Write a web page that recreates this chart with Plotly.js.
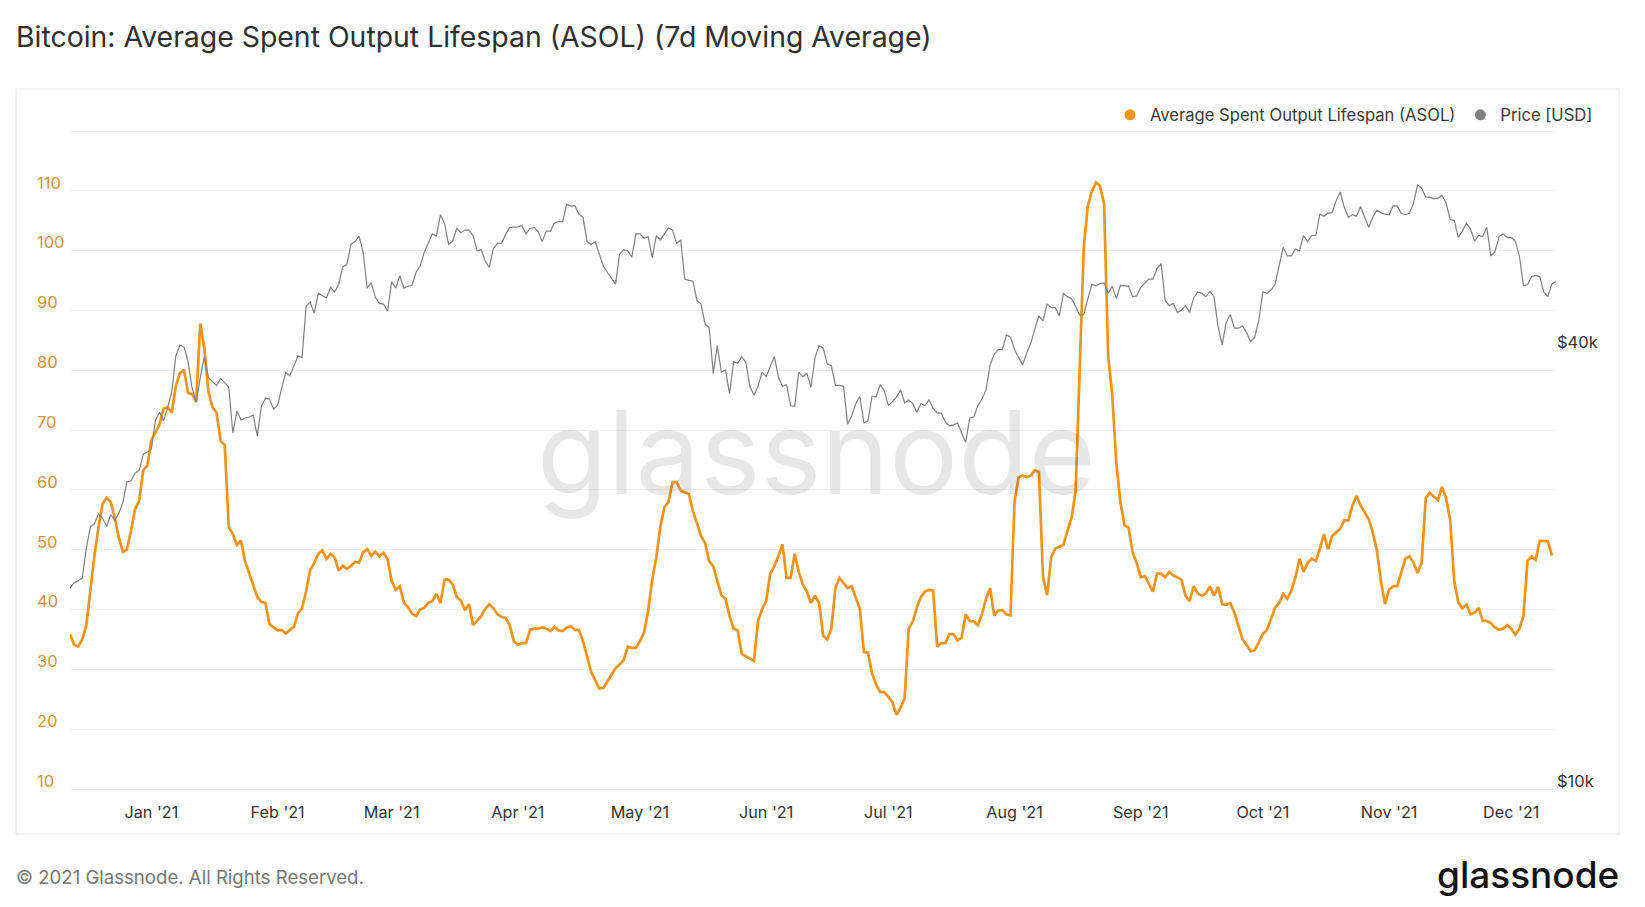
<!DOCTYPE html>
<html>
<head>
<meta charset="utf-8">
<script src="https://cdn.plot.ly/plotly-3.0.1.min.js"></script>
<style>
html,body{margin:0;padding:0;background:#fff;}
#chart{width:1645px;height:907px;}
</style>
</head>
<body>
<div id="chart"></div>
<script>
// ---- Data (daily) ----
const startDate = '2020-12-12';

// Average Spent Output Lifespan (ASOL), 7d MA – daily values from 2020-12-12
const asolDecFeb = [35.9, 34.1, 33.8, 35.0, 37.3, 43.6, 49.0, 53.8, 57.7, 58.7, 58.0, 55.3, 52.0, 49.6, 50.1, 53.2, 56.8, 58.2, 63.3, 64.1,
  68.4, 69.6, 71.0, 73.6, 73.8, 72.9, 77.4, 79.5, 80.1, 76.2, 76.0, 74.7, 87.8, 83.6, 76.5, 73.8, 72.9, 68.2, 67.5, 53.8, 52.6, 50.8, 51.5, 48.1, 46.0, 44.3, 42.1, 41.3, 41.1, 37.6, 37.1,
  36.5, 36.6, 36.0, 36.6, 37.1, 39.4, 40.2, 43.1, 46.6, 47.8, 49.3, 49.9, 48.5, 49.3, 48.7, 46.5, 47.3, 46.8, 47.3, 48.0, 47.8];
const asolFebMay = [49.6, 50.1, 49.0, 49.7, 48.9, 49.5, 48.4, 44.8, 43.3, 43.9, 41.2, 40.4, 39.3, 38.9, 40.0, 40.3, 41.1, 41.4, 42.6, 41.1, 45.0, 45.0, 44.2, 42.1, 41.5, 39.9, 40.9, 37.4, 38.1, 38.9, 40.1, 40.9, 40.2, 39.2, 38.8, 38.6, 37.4, 34.7, 34.1,
  34.4, 34.4, 36.6, 36.8, 36.8, 37.0, 36.8, 36.4, 37.1, 36.5, 36.4, 37.0, 37.2, 36.6, 36.6, 34.7, 32.3, 29.6, 28.2, 26.8, 26.9, 28.0, 29.2, 30.2, 30.8, 31.6, 33.8, 33.6, 33.6, 34.7, 36.2, 39.8, 45.0];
const asolMayJul = [48.7, 53.8, 57.1, 58.0, 61.3, 61.3, 59.9, 59.6, 59.3, 56.5, 54.4, 52.3, 51.1, 48.1, 47.2, 44.8, 42.4, 41.8, 38.9, 36.8, 36.5, 32.6, 32.2, 31.8, 31.4, 38.1, 40.1,
  41.4, 46.0, 47.3, 48.9, 50.9, 45.3, 45.3, 49.3, 46.3, 44.2, 43.0, 41.1, 42.3, 41.1, 35.6, 35.0, 36.8, 43.6, 45.3, 44.5, 43.6, 43.9, 42.1, 40.1, 32.9, 32.8, 29.3, 27.5, 26.2, 26.2,
  25.4, 24.5, 22.4, 23.6, 25.1, 36.8, 38.0, 40.3, 42.1, 43.0, 43.3, 43.2, 33.8, 34.4, 34.4, 35.9];
const asolJulSep = [35.9, 34.8, 35.3, 39.2, 38.1, 38.0, 37.4, 39.2, 41.8, 43.6, 39.0, 39.8, 39.9, 39.2, 39.0, 58.0, 62.1, 62.4, 62.1, 62.4, 63.3, 63.0, 45.4, 42.4, 48.7, 50.2, 50.5, 50.8, 53.2, 55.3, 59.8,
  81.3, 100.4, 107.5, 109.9, 111.4, 110.8, 107.8, 82.5, 75.9, 64.5, 58.0, 54.1, 53.7, 49.6, 47.8, 45.4, 45.6, 44.2, 43.0, 46.0, 46.0, 45.4, 46.3, 45.7, 45.4, 45.0, 42.3, 41.4, 43.9,
  42.7, 42.3, 42.7, 43.9, 42.3, 43.8, 40.9, 40.8, 41.1, 39.5, 37.1, 35.0];
const asolSepDec = [34.1, 33.0, 33.2, 34.5, 35.9, 36.6, 38.6, 40.3, 41.1, 42.6, 41.8, 43.2, 45.4, 48.5, 46.3, 47.8, 48.5, 48.1, 50.2, 52.6, 50.1, 52.3, 52.9, 53.5, 54.9, 54.9, 57.4, 59.0, 57.4, 56.3,
  55.1, 52.9, 49.9, 44.8, 40.9, 43.3, 43.9, 43.9, 46.3, 48.5, 48.9, 47.8, 46.1, 47.8, 58.6, 59.5, 58.9, 58.3, 60.5, 58.6, 55.0, 44.8, 41.2, 40.2, 40.8, 39.2, 39.5, 40.3, 38.1, 38.1,
  37.7, 37.0, 36.6, 36.8, 37.4, 36.8, 35.8, 36.8, 38.9, 48.1, 48.9, 48.3, 51.5, 51.5, 51.4, 49.0];

// Price [USD] – daily values from 2020-12-12
const priceDecFeb = [18870, 19190, 19310, 19480, 21370, 22880, 23120, 23860, 23530, 22920, 23790, 23390, 23910, 24750, 26420, 26490, 27140, 27390, 28810, 29000,
  29310, 32080, 32900, 32000, 33400, 35100, 39300, 40700, 40400, 38600, 35500, 33960, 36700, 39200, 36700, 36200, 35780, 36600, 36100, 35600, 30800, 33000, 32100, 32300, 32400, 32600,
  30500, 33500, 34400, 34300, 33200, 33600, 35500, 37300, 36900, 38000, 39300, 39100, 46000, 46600, 44980, 47900, 47600, 47200, 48800, 48100, 49300, 52100, 52400, 55900, 56400, 57400];
const priceFebMay = [54500, 48700, 49500, 47300, 46400, 46300, 45300, 49700, 48700, 50600, 48700, 48980, 49100, 51200, 52200, 54500, 56100, 57800, 57400, 61400, 59700, 55900, 56500, 58800,
  58000, 58500, 58500, 57500, 54800, 55000, 53000, 52000, 55200, 56100, 56100, 57700, 59000, 59000, 59100, 59300, 57800, 58800, 59000, 58200, 56400, 58300, 58300, 59800, 60100, 60000,
  63500, 63100, 63200, 61500, 60900, 56400, 55900, 56400, 54400, 52200, 51200, 50200, 49300, 54200, 55000, 54800, 53700, 57800, 57800, 57000, 57300, 53600];
const priceMayJul = [57500, 56700, 57700, 58900, 58500, 56100, 56700, 50100, 49900, 49800, 46800, 46300, 43400, 43000, 37200, 40600, 37350, 37600, 34900, 38600, 38400, 39200, 38500, 35700,
  34700, 35700, 37350, 36800, 38000, 39200, 36800, 35700, 35900, 33600, 33500, 37350, 36800, 37200, 35600, 39100, 40600, 40300, 38300, 38100, 35800, 35800, 35700, 31650, 32500, 33800,
  34600, 31800, 32000, 34600, 34500, 35900, 35200, 33600, 34000, 34500, 35300, 33900, 34200, 33800, 32900, 33800, 33600, 34200, 33300, 32800, 32800, 31900, 31500];
const priceJulSep = [31600, 31800, 30800, 29900, 32300, 32400, 33600, 34300, 35300, 38200, 39500, 40100, 40100, 42000, 41700, 40100, 39100, 38200, 39700, 40900, 42800, 44600, 43900, 46300,
  45800, 45800, 44600, 47900, 47400, 47100, 46000, 44700, 44800, 46800, 49300, 49000, 49400, 49500, 47900, 49000, 47100, 49100, 49000, 49000, 47400, 47500, 48800, 49400, 50100, 50100,
  51800, 52600, 46800, 46100, 46400, 45100, 45400, 46100, 45100, 47200, 48100, 47900, 47400, 48200, 47400, 43100, 40700, 43700, 44800, 42900, 42900, 43200];
const priceSepDec = [42300, 41100, 41700, 44000, 48100, 47900, 48400, 49300, 52100, 55400, 53900, 53900, 55100, 54800, 57500, 56400, 57500, 57500, 61500, 61100, 61700, 61800, 64200, 66000,
  62800, 60900, 61400, 61100, 63000, 61100, 58960, 60900, 62300, 61800, 61500, 61400, 63200, 63100, 61700, 61400, 61700, 63700, 67500, 66800, 64900, 64900, 64600, 64700, 65300, 63700,
  60500, 60300, 57150, 58300, 59800, 58700, 56500, 57500, 57300, 59000, 53900, 54600, 57300, 57800, 57150, 57150, 56500, 53900, 49100, 49200, 50500, 50700, 50500, 48100, 47400, 49350, 49700];

// Axis tick labels
const leftTickVals = [10, 20, 30, 40, 50, 60, 70, 80, 90, 100, 110, 120];
const leftTickText = ['10', '20', '30', '40', '50', '60', '70', '80', '90', '100', '110', ''];
const rightTickVals = [10000, 40000];
const rightTickText = ['$10k', '$40k'];

const titleText = 'Bitcoin: Average Spent Output Lifespan (ASOL) (7d Moving Average)';
const asolName = 'Average Spent Output Lifespan (ASOL)';
const priceName = 'Price [USD]';

// ---- Build ----
const asol = [].concat(asolDecFeb, asolFebMay, asolMayJul, asolJulSep, asolSepDec);
const price = [].concat(priceDecFeb, priceFebMay, priceMayJul, priceJulSep, priceSepDec);

function dayList(start, n) {
  const out = [];
  const t0 = Date.parse(start + 'T00:00:00Z');
  for (let i = 0; i < n; i++) out.push(new Date(t0 + i * 86400000).toISOString().slice(0, 10));
  return out;
}
const dates = dayList(startDate, Math.max(asol.length, price.length));

const ORANGE = '#f7931a';
const GREY = '#808080';

const traces = [
  {x: dates.slice(0, asol.length), y: asol, type: 'scatter', mode: 'lines', yaxis: 'y',
   line: {color: ORANGE, width: 2.7}, showlegend: false, hoverinfo: 'skip'},
  {x: dates.slice(0, price.length), y: price, type: 'scatter', mode: 'lines', yaxis: 'y2',
   line: {color: GREY, width: 1.2}, showlegend: false, hoverinfo: 'skip'},
  {x: [null], y: [null], type: 'scatter', mode: 'markers', yaxis: 'y', name: asolName,
   marker: {color: ORANGE, size: 11}, showlegend: true},
  {x: [null], y: [null], type: 'scatter', mode: 'markers', yaxis: 'y', name: priceName,
   marker: {color: GREY, size: 11}, showlegend: true}
];

// plot frame: left axis value 10 sits at y=789px, 120 at y=131px; frame padded slightly beyond
const L = 33, R = 89, T = 125, B = 109, W = 1645, H = 907;
const pw = W - L - R, ph = H - T - B;
const px = v => (v - L) / pw;          // pixel -> paper x
const py = v => (H - B - v) / ph;      // pixel -> paper y
const unitPx = 658 / 110;              // px per ASOL unit
const decadePx = 658 / Math.log10(8);  // px per price decade ($10k..$80k spans the same 658px)
const yLo = 10 - (H - B - 789) / unitPx, yHi = 120 + (131 - T) / unitPx;
const y2Lo = 4 - (H - B - 789) / decadePx, y2Hi = Math.log10(80000) + (131 - T) / decadePx;

const layout = {
  width: W, height: H,
  margin: {l: L, r: R, t: T, b: B, pad: 0},
  paper_bgcolor: '#ffffff', plot_bgcolor: '#ffffff',
  font: {family: 'Inter, "Open Sans", sans-serif', color: '#333333'},
  title: {text: titleText, xref: 'container', yref: 'container', x: 16 / W, y: 1 - 37 / H,
          xanchor: 'left', yanchor: 'middle', font: {size: 28.4, color: '#2f2f2f', family: 'Inter, sans-serif'}},
  showlegend: true,
  legend: {orientation: 'h', x: px(1598), xanchor: 'right', y: py(115), yanchor: 'middle',
           font: {size: 16.6, color: '#3a3a3a'}, bgcolor: 'rgba(0,0,0,0)', itemclick: false},
  xaxis: {type: 'date', domain: [px(70), 1], range: ['2020-12-12', '2021-12-12'],
          tick0: '2021-01-01', dtick: 'M1', tickformat: "%b '%y",
          showgrid: false, zeroline: false, showline: false,
          ticks: '', ticklabelstandoff: 3, tickfont: {size: 16.2, color: '#333333'}, fixedrange: true},
  yaxis: {anchor: 'free', position: 0, side: 'left', range: [yLo, yHi],
          tickmode: 'array', tickvals: leftTickVals, ticktext: leftTickText,
          ticklabelposition: 'inside', ticklabelshift: -8, ticklabelstandoff: 0,
          showgrid: true, gridcolor: '#f1f1f1', gridwidth: 1,
          zeroline: false, showline: false, ticks: '',
          tickfont: {size: 16.5, color: '#e0913a'}, fixedrange: true},
  yaxis2: {overlaying: 'y', side: 'right', type: 'log', range: [y2Lo, y2Hi],
           tickmode: 'array', tickvals: rightTickVals, ticktext: rightTickText,
           ticklabelshift: -8, showgrid: false, zeroline: false, showline: false, ticks: '',
           tickfont: {size: 16.5, color: '#333333'}, fixedrange: true},
  shapes: [
    {type: 'rect', xref: 'paper', yref: 'paper', x0: px(16), x1: px(1619), y0: py(834), y1: py(89),
     line: {color: '#e6e6e6', width: 1}, fillcolor: 'rgba(0,0,0,0)', layer: 'below'}
  ],
  annotations: [
    {text: 'glassnode', xref: 'paper', yref: 'paper', x: px(816), y: py(452), xanchor: 'center', yanchor: 'middle',
     showarrow: false, font: {size: 115, color: 'rgba(0,0,0,0.095)', family: 'Inter, sans-serif'}},
    {text: '© 2021 Glassnode. All Rights Reserved.', xref: 'paper', yref: 'paper', x: px(14), y: py(877),
     xanchor: 'left', yanchor: 'middle', showarrow: false, font: {size: 18.6, color: '#777777'}},
    {text: 'glassnode', xref: 'paper', yref: 'paper', x: px(1621), y: py(874), xanchor: 'right', yanchor: 'middle',
     showarrow: false, font: {size: 37, color: '#111111', family: 'Inter, sans-serif', weight: 500}}
  ]
};

Plotly.newPlot('chart', traces, layout, {displayModeBar: false, staticPlot: true});
</script>
</body>
</html>
